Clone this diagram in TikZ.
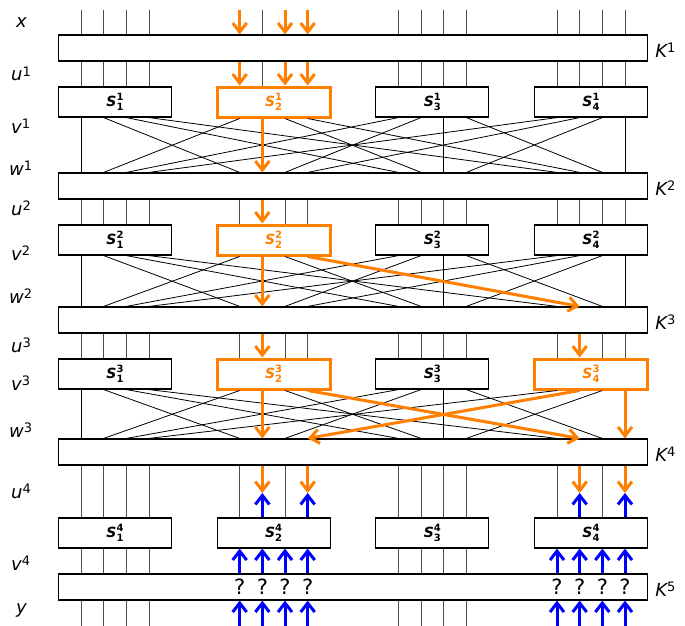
\documentclass[tikz,border=0pt]{standalone}
\usepackage{fontspec}
\setmainfont{DejaVu Sans}
\usetikzlibrary{arrows.meta,positioning}

\newcommand{\sups}[1]{\raisebox{5pt}{\fontsize{13}{13}\selectfont\upshape #1}}
\newcommand{\sbxlabel}[2]{\textbf{\textit{S}}\rlap{\raisebox{6pt}{\fontsize{10}{10}\selectfont\bfseries #1}}\raisebox{-4.5pt}{\fontsize{10}{10}\selectfont\bfseries #2}}

\begin{document}
\begin{tikzpicture}[x=1pt, y=-1pt,
    keybox/.style={draw, fill=white, line width=1.2pt, minimum width=589pt,
                   minimum height=26pt, inner sep=0pt},
    sbox/.style={draw, fill=white, line width=1.2pt, minimum width=113pt,
                 minimum height=30pt, inner sep=0pt, font=\fontsize{14}{14}\selectfont},
    hot/.style={sbox, draw=orange, text=orange, line width=3pt},
    wire/.style={black!70, line width=0.9pt},
    perm/.style={black, line width=0.8pt},
    trail/.style={orange, line width=3pt, -{Straight Barb[length=9pt, width=14pt, line width=3pt]}},
    retro/.style={blue, line width=3pt, -{Straight Barb[length=9pt, width=14pt, line width=3pt]}},
    lbl/.style={font=\fontsize{18}{18}\selectfont\itshape, inner sep=0pt},
    qm/.style={font=\fontsize{21}{21}\selectfont, inner sep=0pt},
]
\useasboundingbox (0,0) rectangle (685,626);

% wire positions: box j, bit i
\foreach \j in {1,...,4}
  \foreach \i in {1,...,4} {
    \coordinate (t\j\i) at ({81+22.667*(7*\j+\i-8)},10);
    \coordinate (m\j\i) at ({81+22.667*(7*\j+\i-8)},493);
    \coordinate (b\j\i) at ({81+22.667*(7*\j+\i-8)},626);
  }

% key mixing
\node[keybox] (K1) at (353,48) {};
\node[keybox] (K2) at (353,186) {};
\node[keybox] (K3) at (353,320) {};
\node[keybox] (K4) at (353,452) {};
\node[keybox] (K5) at (353,587) {};
\foreach \r in {1,...,5}
  \node[lbl, anchor=base west] (lk\r) at ([xshift=7pt,yshift=-9pt]K\r.east) {K\sups{\r}};

% s-boxes
\foreach \r/\j/\st in {1/1/sbox,1/2/hot,1/3/sbox,1/4/sbox,
                       2/1/sbox,2/2/hot,2/3/sbox,2/4/sbox,
                       3/1/sbox,3/2/hot,3/3/sbox,3/4/hot,
                       4/1/sbox,4/2/sbox,4/3/sbox,4/4/sbox} {
  \pgfmathsetmacro{\yy}{{102,240,374,533}[\r-1]}
  \node[\st] (S\r\j) at ({115+158.667*(\j-1)},\yy) {\sbxlabel{\r}{\j}};
}

% row labels
\node[lbl, anchor=base west] (lx)  at (16,28)  {x};
\node[lbl, anchor=base west] (lu1) at (11,81)  {u\sups{1}};
\node[lbl, anchor=base west] (lv1) at (11,133) {v\sups{1}};
\node[lbl, anchor=base west] (lw1) at (9,175)  {w\sups{1}};
\node[lbl, anchor=base west] (lu2) at (11,215) {u\sups{2}};
\node[lbl, anchor=base west] (lv2) at (11,260) {v\sups{2}};
\node[lbl, anchor=base west] (lw2) at (9,303)  {w\sups{2}};
\node[lbl, anchor=base west] (lu3) at (11,352) {u\sups{3}};
\node[lbl, anchor=base west] (lv3) at (11,390) {v\sups{3}};
\node[lbl, anchor=base west] (lw3) at (9,437)  {w\sups{3}};
\node[lbl, anchor=base west] (lu4) at (11,498) {u\sups{4}};
\node[lbl, anchor=base west] (lv4) at (11,570) {v\sups{4}};
\node[lbl, anchor=base west] (ly)  at (16,613) {y};

% plain wires
\foreach \j/\i in {1/1,1/2,1/3,1/4,2/2,3/1,3/2,3/3,3/4,4/1,4/2,4/3,4/4} {
  \draw[wire] (t\j\i) -- (K1.north -| t\j\i);
  \draw[wire] (K1.south -| t\j\i) -- (S1\j.north -| t\j\i);
}
\foreach \j/\i in {1/1,1/2,1/3,1/4,2/1,2/3,2/4,3/1,3/2,3/3,3/4,4/1,4/2,4/3,4/4}
  \draw[wire] (K2.south -| t\j\i) -- (S2\j.north -| t\j\i);
\foreach \j/\i in {1/1,1/2,1/3,1/4,2/1,2/3,2/4,3/1,3/2,3/3,3/4,4/1,4/3,4/4}
  \draw[wire] (K3.south -| t\j\i) -- (S3\j.north -| t\j\i);
\foreach \j/\i in {1/1,1/2,1/3,1/4,2/1,2/3,3/1,3/2,3/3,3/4,4/1,4/3}
  \draw[wire] (K4.south -| t\j\i) -- (S4\j.north -| t\j\i);
\foreach \j in {1,3}
  \foreach \i in {1,...,4} {
    \draw[wire] (S4\j.south -| t\j\i) -- (K5.north -| t\j\i);
    \draw[wire] (K5.south -| t\j\i) -- (b\j\i);
  }

% permutation layers
\foreach \r/\n in {1/2,2/3,3/4}
  \foreach \j in {1,...,4}
    \foreach \i in {1,...,4}
      \draw[perm] (S\r\j.south -| t\j\i) -- (K\n.north -| t\i\j);

% differential trail
\foreach \i in {1,3,4} {
  \draw[trail] (t2\i) -- (K1.north -| t2\i);
  \draw[trail] (K1.south -| t2\i) -- (S12.north -| t2\i);
}
\draw[trail] (S12.south -| t22) -- (K2.north -| t22);
\draw[trail] (K2.south -| t22) -- (S22.north -| t22);
\draw[trail] (S22.south -| t22) -- (K3.north -| t22);
\draw[trail] (S22.south -| t24) -- (K3.north -| t42);
\draw[trail] (K3.south -| t22) -- (S32.north -| t22);
\draw[trail] (K3.south -| t42) -- (S34.north -| t42);
\draw[trail] (S32.south -| t22) -- (K4.north -| t22);
\draw[trail] (S32.south -| t24) -- (K4.north -| t42);
\draw[trail] (S34.south -| t42) -- (K4.north -| t24);
\draw[trail] (S34.south -| t44) -- (K4.north -| t44);
\foreach \w in {22,24,42,44}
  \draw[trail] (K4.south -| t\w) -- (m\w);

% partial decryption of the last round
\foreach \w/\j in {22/2,24/2,42/4,44/4}
  \draw[retro] (S4\j.north -| t\w) -- (m\w);
\foreach \j in {2,4}
  \foreach \i in {1,...,4} {
    \draw[retro] (K5.north -| t\j\i) -- (S4\j.south -| t\j\i);
    \draw[retro] (b\j\i) -- (K5.south -| t\j\i);
    \node[qm] (q\j\i) at (K5 -| t\j\i) {?};
  }
\end{tikzpicture}
\end{document}
